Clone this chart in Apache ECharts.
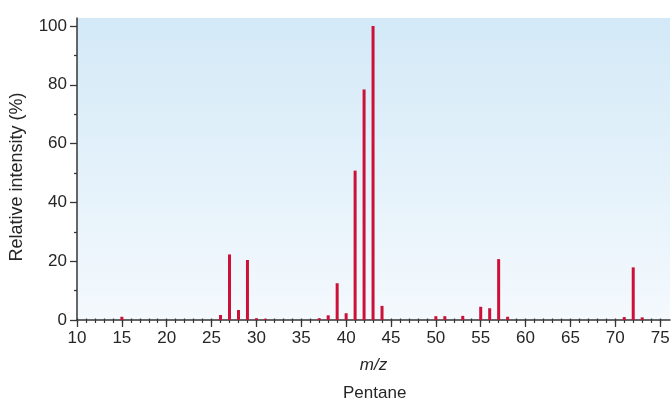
<!DOCTYPE html>
<html>
<head>
<meta charset="utf-8">
<script src="https://cdn.jsdelivr.net/npm/echarts@6/dist/echarts.min.js"></script>
<style>
  html, body { margin: 0; padding: 0; background: #ffffff; }
  #chart { width: 672px; height: 403px; }
</style>
</head>
<body>
<div id="chart"></div>
<script>
// Mass spectrum of pentane: fragment m/z and relative intensity (%)
const mzValues = [15, 26, 27, 28, 29, 30, 31, 37, 38, 39, 40, 41, 42, 43, 44, 50, 51, 53, 55, 56, 57, 58, 71, 72, 73];
const intensities = [1.1, 1.7, 22.3, 3.4, 20.4, 0.6, 0.4, 0.6, 1.6, 12.5, 2.3, 50.8, 78.4, 100, 4.8, 1.3, 1.3, 1.4, 4.5, 4.0, 20.7, 1.1, 1.0, 17.9, 0.9];

// Axis tick positions
const xMajorTicks = [10, 15, 20, 25, 30, 35, 40, 45, 50, 55, 60, 65, 70, 75];
const xMinorTicks = [];
for (let v = 10; v <= 75; v++) xMinorTicks.push(v);
const yMajorTicks = [0, 20, 40, 60, 80, 100];
const yMinorTicks = [10, 30, 50, 70, 90];

const X_MIN = 10, X_MAX = 76.1;
const Y_MIN = 0, Y_MAX = 102.7;

const FONT = "'Liberation Sans', Arial, sans-serif";
const TEXT = '#262626';
const AXIS = '#363636';

const chart = echarts.init(document.getElementById('chart'), null, { renderer: 'canvas' });

chart.setOption({
  animation: false,
  grid: {
    left: 77, right: 2, top: 18, bottom: 83,
    outerBoundsMode: 'none',
    containLabel: false,
    show: true,
    borderWidth: 0,
    backgroundColor: new echarts.graphic.LinearGradient(0, 0, 0, 1, [
      { offset: 0, color: '#d3e9f7' },
      { offset: 1, color: '#f4f9fd' }
    ])
  },
  xAxis: [
    {
      type: 'value', min: X_MIN, max: X_MAX,
      name: 'm/z', nameLocation: 'middle', nameGap: 37,
      nameTextStyle: { fontFamily: FONT, fontSize: 17, fontStyle: 'italic', color: TEXT },
      axisLine: { show: true, onZero: false, lineStyle: { color: AXIS, width: 1.5 } },
      axisTick: { show: true, customValues: xMajorTicks, length: 7, lineStyle: { color: AXIS, width: 1.3 } },
      axisLabel: { customValues: xMajorTicks, margin: 10, fontFamily: FONT, fontSize: 17, color: TEXT },
      splitLine: { show: false }
    },
    {
      // small ticks at every integer, below the baseline
      type: 'value', min: X_MIN, max: X_MAX, position: 'bottom',
      axisLine: { show: false },
      axisTick: { show: true, customValues: xMinorTicks, length: 3, lineStyle: { color: AXIS, width: 1.2 } },
      axisLabel: { show: false },
      splitLine: { show: false }
    },
    {
      // the same integer ticks poking just above the baseline
      type: 'value', min: X_MIN, max: X_MAX, position: 'bottom',
      axisLine: { show: false },
      axisTick: { show: true, inside: true, customValues: xMinorTicks, length: 1.5, lineStyle: { color: AXIS, width: 1.2 } },
      axisLabel: { show: false },
      splitLine: { show: false }
    }
  ],
  yAxis: [
    {
      type: 'value', min: Y_MIN, max: Y_MAX,
      name: 'Relative intensity (%)', nameLocation: 'middle', nameGap: 51,
      nameTextStyle: { fontFamily: FONT, fontSize: 18, color: TEXT, padding: [0, 16, 0, 0] },
      axisLine: { show: true, lineStyle: { color: AXIS, width: 1.5 } },
      axisTick: { show: true, customValues: yMajorTicks, length: 7, lineStyle: { color: AXIS, width: 1.3 } },
      axisLabel: { customValues: yMajorTicks, margin: 10, fontFamily: FONT, fontSize: 17, color: TEXT },
      splitLine: { show: false }
    },
    {
      type: 'value', min: Y_MIN, max: Y_MAX, position: 'left',
      axisLine: { show: false },
      axisTick: { show: true, customValues: yMinorTicks, length: 3, lineStyle: { color: AXIS, width: 1.3 } },
      axisLabel: { show: false },
      splitLine: { show: false }
    }
  ],
  series: [
    {
      type: 'bar',
      xAxisIndex: 0, yAxisIndex: 0,
      barWidth: 3,
      itemStyle: { color: '#cc1038' },
      data: mzValues.map((m, i) => [m, intensities[i]])
    }
  ],
  graphic: [
    {
      type: 'text',
      left: 373 - 30, top: 385,
      style: { text: 'Pentane', x: 0, y: 0, fontFamily: FONT, fontSize: 17, fill: TEXT, width: 60, align: 'center' }
    }
  ]
});
</script>
</body>
</html>
